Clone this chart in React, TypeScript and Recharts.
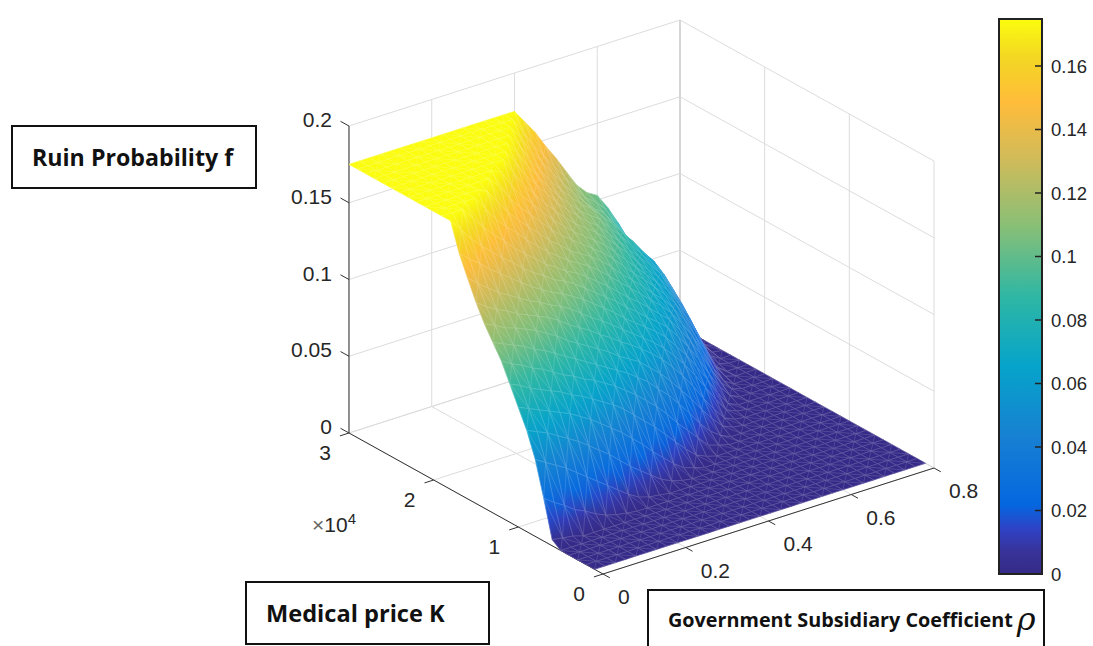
import React from 'react';
import { Bar, BarChart, Scatter, ScatterChart, XAxis, YAxis } from 'recharts';

// Medical price K, in units of 10^4 (rows of the table)
const K_VALUES = [0.1, 0.2, 0.3, 0.4, 0.5, 0.6, 0.7, 0.8, 0.9, 1, 1.1, 1.2, 1.3, 1.4, 1.5, 1.6, 1.7, 1.8, 1.9, 2, 2.1, 2.2, 2.3, 2.4, 2.5, 2.6, 2.7, 2.8, 2.9, 3];
// Government subsidiary coefficient (columns of the table)
const RHO_VALUES = [0, 0.025, 0.05, 0.075, 0.1, 0.125, 0.15, 0.175, 0.2, 0.225, 0.25, 0.275, 0.3, 0.325, 0.35, 0.375, 0.4, 0.425, 0.45, 0.475, 0.5, 0.525, 0.55, 0.575, 0.6, 0.625, 0.65, 0.675, 0.7, 0.725, 0.75, 0.775, 0.8];
// Ruin probability x 1000. A row stops where the surface reaches the floor.
const RUIN_TABLE = [
  [],
  [],
  [],
  [],
  [],
  [4, 3, 2],
  [28, 23, 19, 14, 11, 7, 4, 2, 1],
  [50, 46, 42, 38, 33, 28, 23, 18, 13, 8, 4, 2, 1],
  [66, 63, 60, 56, 52, 48, 43, 38, 33, 27, 21, 16, 11, 6, 3, 1],
  [78, 75, 72, 69, 66, 63, 59, 55, 50, 45, 40, 34, 28, 21, 15, 9, 4, 2],
  [90, 87, 83, 80, 77, 74, 70, 67, 63, 59, 55, 50, 44, 38, 32, 25, 18, 11, 5, 2],
  [102, 98, 95, 91, 88, 84, 80, 77, 73, 70, 66, 62, 57, 52, 46, 40, 33, 25, 18, 11, 4, 2],
  [111, 108, 105, 102, 98, 95, 91, 87, 83, 79, 75, 71, 67, 63, 58, 53, 46, 40, 32, 24, 15, 8, 3],
  [120, 117, 113, 111, 108, 105, 101, 97, 92, 88, 84, 80, 76, 71, 67, 63, 57, 51, 44, 36, 28, 19, 11, 4, 1],
  [131, 126, 122, 119, 115, 112, 109, 106, 102, 97, 93, 89, 84, 80, 75, 71, 66, 61, 55, 48, 40, 31, 21, 12, 4, 1],
  [144, 138, 133, 128, 124, 120, 116, 113, 109, 106, 102, 97, 92, 88, 83, 78, 73, 68, 63, 57, 50, 42, 33, 23, 13, 4, 1],
  [157, 151, 146, 140, 135, 130, 125, 120, 116, 112, 109, 105, 101, 96, 91, 86, 80, 75, 70, 65, 59, 51, 43, 33, 23, 12, 3],
  [175, 167, 159, 152, 146, 140, 135, 129, 124, 120, 115, 112, 108, 103, 98, 93, 88, 82, 77, 71, 66, 60, 52, 43, 33, 21, 11, 3],
  [175, 175, 175, 167, 159, 152, 146, 139, 133, 128, 122, 118, 113, 110, 105, 100, 95, 89, 83, 78, 72, 66, 60, 51, 42, 31, 19, 8, 2],
  [175, 175, 175, 175, 175, 166, 157, 150, 144, 137, 131, 125, 120, 115, 111, 107, 102, 96, 90, 84, 78, 72, 66, 59, 50, 40, 28, 15, 4],
  [175, 175, 175, 175, 175, 175, 172, 163, 154, 147, 140, 134, 127, 122, 116, 112, 108, 103, 97, 90, 84, 78, 71, 65, 57, 48, 36, 24, 11, 2],
  [175, 175, 175, 175, 175, 175, 175, 175, 168, 158, 150, 143, 136, 129, 123, 118, 113, 108, 103, 97, 90, 83, 77, 70, 63, 55, 44, 32, 18, 5],
  [175, 175, 175, 175, 175, 175, 175, 175, 175, 172, 161, 152, 145, 137, 130, 124, 118, 113, 108, 103, 96, 89, 82, 75, 68, 61, 51, 40, 25, 11, 2],
  [175, 175, 175, 175, 175, 175, 175, 175, 175, 175, 175, 164, 154, 146, 138, 131, 124, 118, 113, 108, 102, 95, 88, 80, 73, 66, 57, 46, 33, 18, 4],
  [175, 175, 175, 175, 175, 175, 175, 175, 175, 175, 175, 175, 166, 155, 147, 139, 131, 124, 118, 112, 107, 100, 93, 85, 78, 71, 63, 52, 40, 25, 9, 1],
  [175, 175, 175, 175, 175, 175, 175, 175, 175, 175, 175, 175, 175, 167, 156, 147, 138, 130, 123, 116, 111, 106, 98, 91, 83, 75, 67, 58, 46, 32, 15, 3],
  [175, 175, 175, 175, 175, 175, 175, 175, 175, 175, 175, 175, 175, 175, 167, 155, 146, 137, 129, 122, 115, 110, 103, 96, 88, 80, 71, 63, 52, 38, 21, 6],
  [175, 175, 175, 175, 175, 175, 175, 175, 175, 175, 175, 175, 175, 175, 175, 166, 155, 146, 137, 128, 120, 112, 105, 100, 91, 80, 68, 57, 47, 35, 22, 9],
  [175, 175, 175, 175, 175, 175, 175, 175, 175, 175, 175, 175, 175, 175, 175, 175, 165, 154, 145, 136, 127, 118, 109, 104, 97, 86, 74, 62, 52, 41, 29, 18, 5],
  [175, 175, 175, 175, 175, 175, 175, 175, 175, 175, 175, 175, 175, 175, 175, 175, 175, 166, 157, 146, 136, 125, 114, 107, 103, 93, 81, 68, 57, 46, 35, 24, 14],
];

const K_TICKS = [0, 1, 2, 3];
const RHO_TICKS = [0, 0.2, 0.4, 0.6, 0.8];
const F_TICKS = [0, 0.05, 0.1, 0.15, 0.2];
const COLORBAR_TICKS = [0, 0.02, 0.04, 0.06, 0.08, 0.1, 0.12, 0.14, 0.16];
const COLORBAR_TOP = 0.1748;
const COLORBAR_DATA = [{ name: 'f', value: COLORBAR_TOP }];

// parula, position in the map and colour
const COLOR_POS = [0, 0.04, 0.08, 0.125, 0.25, 0.375, 0.5, 0.625, 0.75, 0.85, 0.93, 1];
const COLOR_HEX = ['#352A87', '#383399', '#2F41C4', '#0567E0', '#1781D2', '#06A4CA', '#2EB7A4', '#87BF77', '#D1BB59', '#FFBC3A', '#F3D723', '#FBFC0E'];

const W = 1093;
const H = 646;
const TEXT = '#262626';

// fixed MATLAB style view of the box
const projX = (k: number, rho: number) => 603 - 84.67 * k + 413.75 * rho;
const projY = (k: number, rho: number, f: number) => 574 - 47 * k - 132.5 * rho - 1535 * f;

function hexRgb(hex: string) {
  return [1, 3, 5].map((i) => parseInt(hex.slice(i, i + 2), 16));
}

function parula(t: number) {
  const v = Math.max(0, Math.min(1, t));
  let i = 0;
  while (i < COLOR_POS.length - 2 && v > COLOR_POS[i + 1]) i++;
  const a = hexRgb(COLOR_HEX[i]);
  const b = hexRgb(COLOR_HEX[i + 1]);
  const m = (v - COLOR_POS[i]) / (COLOR_POS[i + 1] - COLOR_POS[i]);
  return `rgb(${a.map((c, n) => Math.round(c + (b[n] - c) * m)).join(',')})`;
}

const ruin = (i: number, j: number) => (RUIN_TABLE[i][j] ?? 0) / 1000;

// screen direction in which f changes over a cell, fitted to its four corners
function shadeLine(corners: { x: number; y: number; f: number }[]) {
  const n = corners.length;
  const mx = corners.reduce((s, c) => s + c.x, 0) / n;
  const my = corners.reduce((s, c) => s + c.y, 0) / n;
  const mf = corners.reduce((s, c) => s + c.f, 0) / n;
  let xx = 0, xy = 0, yy = 0, xf = 0, yf = 0;
  corners.forEach((c) => {
    const dx = c.x - mx, dy = c.y - my, df = c.f - mf;
    xx += dx * dx; xy += dx * dy; yy += dy * dy; xf += dx * df; yf += dy * df;
  });
  const det = xx * yy - xy * xy;
  const fs = corners.map((c) => c.f);
  const lo = Math.min(...fs), hi = Math.max(...fs);
  if (Math.abs(det) < 1e-6 || hi - lo < 1e-6) return null;
  const a = (xf * yy - yf * xy) / det;
  const b = (yf * xx - xf * xy) / det;
  const g2 = a * a + b * b;
  if (g2 < 1e-12) return null;
  return {
    x1: mx + (a * (lo - mf)) / g2,
    y1: my + (b * (lo - mf)) / g2,
    x2: mx + (a * (hi - mf)) / g2,
    y2: my + (b * (hi - mf)) / g2,
    stops: [lo, (lo + hi) / 2, hi].map((f) => parula(f / COLORBAR_TOP)),
  };
}

// far cells first so the nearer ones paint over them
function buildCells() {
  const cells = [];
  for (let i = K_VALUES.length - 2; i >= 0; i--) {
    for (let j = RHO_VALUES.length - 2; j >= 0; j--) {
      const corners = [[i, j], [i + 1, j], [i + 1, j + 1], [i, j + 1]].map(([a, b]) => ({
        x: projX(K_VALUES[a], RHO_VALUES[b]),
        y: projY(K_VALUES[a], RHO_VALUES[b], ruin(a, b)),
        f: ruin(a, b),
      }));
      const mean = corners.reduce((s, c) => s + c.f, 0) / 4;
      cells.push({
        id: `cell-${i}-${j}`,
        x: corners[0].x,
        y: corners[0].y,
        corners,
        flip: (i + j) % 2 === 0,
        fill: parula(mean / COLORBAR_TOP),
        shade: shadeLine(corners),
      });
    }
  }
  return cells;
}

const seg = (a: number[], b: number[]) => {
  const p = { x: projX(a[0], a[1]), y: projY(a[0], a[1], a[2]) };
  const q = { x: projX(b[0], b[1]), y: projY(b[0], b[1], b[2]) };
  return { x: p.x, y: p.y, dx: q.x - p.x, dy: q.y - p.y };
};

const gridSegments = [
  ...RHO_TICKS.map((r) => seg([3, r, 0], [3, r, 0.2])),
  ...K_TICKS.map((k) => seg([k, 0.8, 0], [k, 0.8, 0.2])),
  ...F_TICKS.map((f) => seg([3, 0, f], [3, 0.8, f])),
  ...F_TICKS.map((f) => seg([3, 0.8, f], [0, 0.8, f])),
  ...RHO_TICKS.map((r) => seg([3, r, 0], [0, r, 0])),
  ...K_TICKS.map((k) => seg([k, 0, 0], [k, 0.8, 0])),
];

// the back corner of the box is drawn heavier
const cornerSegments = [seg([3, 0.8, 0], [3, 0.8, 0.2])];

const axisSegments = [
  seg([3, 0, 0], [3, 0, 0.2]),
  seg([0, 0, 0], [3, 0, 0]),
  seg([0, 0, 0], [0, 0.8, 0]),
  ...F_TICKS.map((f) => seg([3, 0, f], [3.1, 0, f])),
  ...K_TICKS.map((k) => seg([k, 0, 0], [k, -0.022, 0])),
  ...RHO_TICKS.map((r) => seg([0, r, 0], [-0.08, r, 0])),
];

const tickLabels = [
  ...F_TICKS.map((f) => ({ x: projX(3, 0) - 17, y: projY(3, 0, f) + 1, text: String(f), anchor: 'end' })),
  ...K_TICKS.map((k) => ({ x: projX(k, 0) - 24, y: projY(k, 0, 0) + 27, text: String(k), anchor: 'middle' })),
  ...RHO_TICKS.map((r) => ({ x: projX(0, r) + 15, y: projY(0, r, 0) + 30, text: String(r), anchor: 'start' })),
];

function CellShape({ cx, cy, payload }: any) {
  const ox = cx - payload.x;
  const oy = cy - payload.y;
  const pts = payload.corners.map((c: any) => [c.x + ox, c.y + oy]);
  const outline = `M${pts.map((p: number[]) => `${p[0].toFixed(1)} ${p[1].toFixed(1)}`).join('L')}Z`;
  const d = payload.flip ? [pts[0], pts[2]] : [pts[1], pts[3]];
  const s = payload.shade;
  const paint = s ? `url(#${payload.id})` : payload.fill;
  return (
    <g>
      {s && (
        <linearGradient id={payload.id} gradientUnits="userSpaceOnUse" x1={s.x1 + ox} y1={s.y1 + oy} x2={s.x2 + ox} y2={s.y2 + oy}>
          <stop offset={0} stopColor={s.stops[0]} />
          <stop offset={0.5} stopColor={s.stops[1]} />
          <stop offset={1} stopColor={s.stops[2]} />
        </linearGradient>
      )}
      <path d={outline} fill={paint} stroke={paint} strokeWidth={0.7} />
      <path d={`${outline}M${d[0][0].toFixed(1)} ${d[0][1].toFixed(1)}L${d[1][0].toFixed(1)} ${d[1][1].toFixed(1)}`} fill="none" stroke="#fff" strokeOpacity={0.28} strokeWidth={0.5} />
    </g>
  );
}

function GridShape({ cx, cy, payload }: any) {
  return <line x1={cx} y1={cy} x2={cx + payload.dx} y2={cy + payload.dy} stroke="#dcdcdc" strokeWidth={1} />;
}

function CornerShape({ cx, cy, payload }: any) {
  return <line x1={cx} y1={cy} x2={cx + payload.dx} y2={cy + payload.dy} stroke="#d6d6d6" strokeWidth={2} />;
}

function AxisShape({ cx, cy, payload }: any) {
  return <line x1={cx} y1={cy} x2={cx + payload.dx} y2={cy + payload.dy} stroke="#333" strokeWidth={1} />;
}

function LabelShape({ cx, cy, payload }: any) {
  return (
    <text x={cx} y={cy} textAnchor={payload.anchor} fontFamily="Liberation Sans" fontSize={21} fill={TEXT}>
      {payload.text}
    </text>
  );
}

function Surface() {
  const cells = buildCells();
  return (
    <ScatterChart width={W} height={H} margin={{ top: 0, right: 0, bottom: 0, left: 0 }}>
      <XAxis type="number" dataKey="x" domain={[0, W]} hide />
      <YAxis type="number" dataKey="y" domain={[0, H]} reversed hide />
      <Scatter data={gridSegments} shape={GridShape} isAnimationActive={false} />
      <Scatter data={cornerSegments} shape={CornerShape} isAnimationActive={false} />
      <Scatter data={axisSegments} shape={AxisShape} isAnimationActive={false} />
      <Scatter data={cells} shape={CellShape} isAnimationActive={false} />
      <Scatter data={tickLabels} shape={LabelShape} isAnimationActive={false} />
    </ScatterChart>
  );
}

function Colorbar() {
  return (
    <BarChart width={95} height={568} data={COLORBAR_DATA} barCategoryGap={0} margin={{ top: 1, right: 0, bottom: 12, left: 1 }}>
      <defs>
        <linearGradient id="parula" x1="0" y1="1" x2="0" y2="0">
          {COLOR_POS.map((p, i) => (
            <stop key={p} offset={p} stopColor={COLOR_HEX[i]} />
          ))}
        </linearGradient>
      </defs>
      <XAxis dataKey="name" hide />
      <YAxis
        orientation="right"
        type="number"
        width={51}
        domain={[0, COLORBAR_TOP]}
        ticks={COLORBAR_TICKS}
        axisLine={false}
        tickSize={-7}
        tickMargin={16}
        interval={0}
        tickLine={{ stroke: '#222', strokeWidth: 1.5 }}
        tick={{ fill: TEXT, fontSize: 18.5, fontFamily: 'Liberation Sans' }}
      />
      <Bar dataKey="value" fill="url(#parula)" stroke="#222" strokeWidth={2} isAnimationActive={false} />
    </BarChart>
  );
}

function NoteBox({ left, top, width, height, fontSize, pad, children }: any) {
  return (
    <div
      style={{
        position: 'absolute',
        left,
        top,
        width,
        height,
        boxSizing: 'border-box',
        border: '2px solid #111',
        background: '#fff',
        display: 'flex',
        alignItems: 'center',
        paddingLeft: pad,
        fontFamily: 'Open Sans',
        fontWeight: 700,
        fontSize,
        color: '#111',
        whiteSpace: 'nowrap',
      }}
    >
      {children}
    </div>
  );
}

export default function App() {
  return (
    <div style={{ position: 'absolute', left: 0, top: 0, width: W, height: H, overflow: 'hidden', background: '#fff' }}>
      <Surface />
      <div style={{ position: 'absolute', left: 998, top: 18 }}>
        <Colorbar />
      </div>
      <div style={{ position: 'absolute', left: 312, top: 513, fontFamily: 'Liberation Sans', fontSize: 21, color: TEXT }}>
        <span style={{ color: '#666' }}>×</span>10<sup style={{ fontSize: 15, lineHeight: 0 }}>4</sup>
      </div>
      <NoteBox left={11} top={125} width={246} height={64} fontSize={23.2} pad={19}>Ruin Probability f</NoteBox>
      <NoteBox left={245} top={581} width={245} height={64} fontSize={23.6} pad={19}>Medical price K</NoteBox>
      <NoteBox left={647} top={589} width={398} height={60} fontSize={19.8} pad={19}>
        Government Subsidiary Coefficient
        <span style={{ fontFamily: 'DejaVu Serif', fontStyle: 'italic', fontWeight: 400, fontSize: 32, marginLeft: 4, lineHeight: 0 }}>ρ</span>
      </NoteBox>
    </div>
  );
}
